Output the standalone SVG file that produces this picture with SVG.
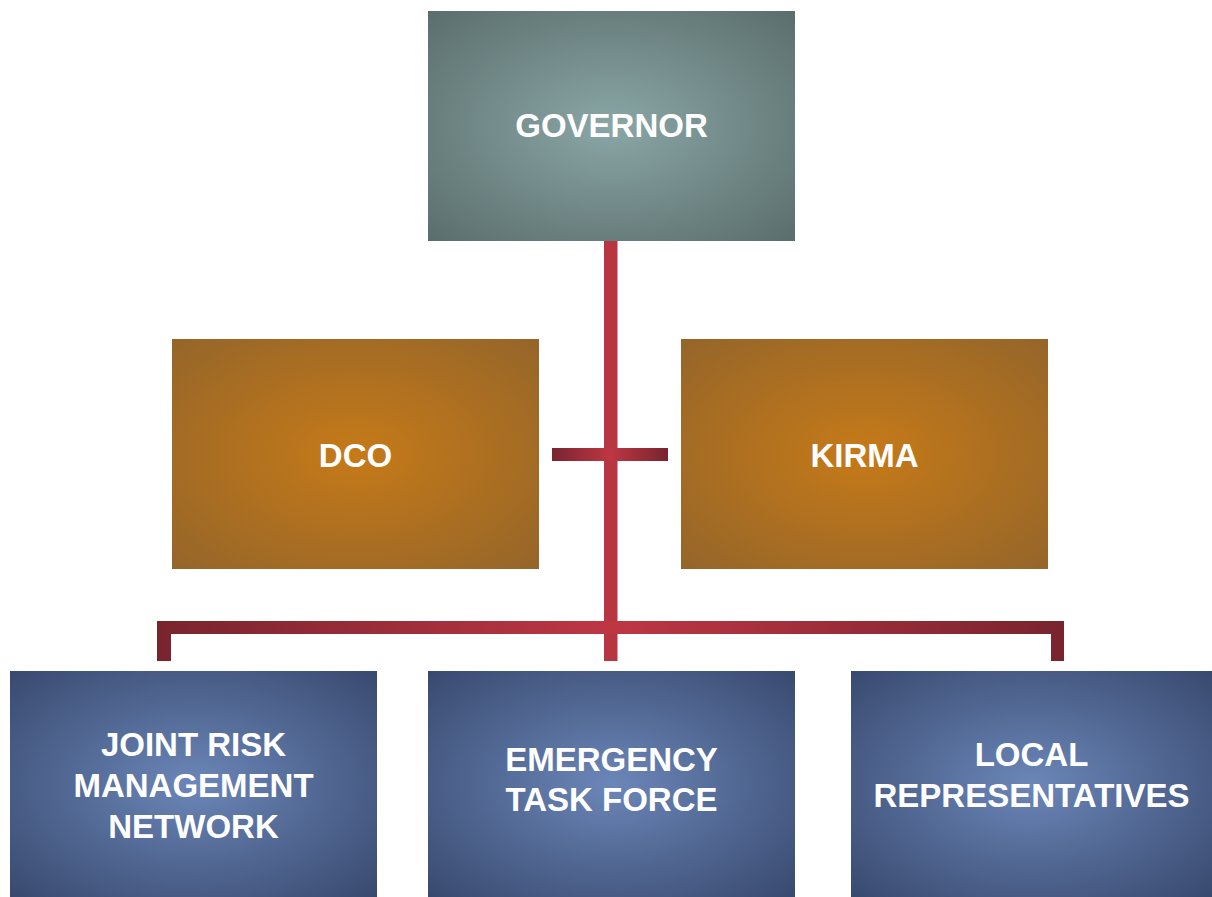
<svg xmlns="http://www.w3.org/2000/svg" width="1212" height="897" viewBox="0 0 1212 897">
  <defs>
    <radialGradient id="gGray" cx="0.5" cy="0.5" r="0.71">
      <stop offset="0" stop-color="#8aa6a6"/>
      <stop offset="1" stop-color="#5a6d6c"/>
    </radialGradient>
    <radialGradient id="gOrange" cx="0.5" cy="0.5" r="0.71">
      <stop offset="0" stop-color="#c67a18"/>
      <stop offset="1" stop-color="#94652a"/>
    </radialGradient>
    <radialGradient id="gBlue" cx="0.5" cy="0.5" r="0.71">
      <stop offset="0" stop-color="#6b86b8"/>
      <stop offset="1" stop-color="#38496e"/>
    </radialGradient>
    <linearGradient id="gRedH" x1="0" y1="0" x2="1" y2="0">
      <stop offset="0" stop-color="#78242f"/>
      <stop offset="0.5" stop-color="#bd3743"/>
      <stop offset="1" stop-color="#78242f"/>
    </linearGradient>
    <linearGradient id="gRedBottom" gradientUnits="userSpaceOnUse" x1="157" y1="0" x2="1064" y2="0">
      <stop offset="0" stop-color="#78242f"/>
      <stop offset="0.5" stop-color="#bd3743"/>
      <stop offset="1" stop-color="#78242f"/>
    </linearGradient>
  </defs>
  <style>
    .lbl { font-family: "Liberation Sans", Arial, sans-serif; font-weight: bold; font-size: 33px; fill: #ffffff; text-anchor: middle; }
  </style>
  <rect width="1212" height="897" fill="#ffffff"/>

  <g id="connectors">
    <rect x="604" y="241" width="13.5" height="420" fill="#b83642"/>
    <rect x="552" y="448" width="116" height="13" fill="url(#gRedH)"/>
    <path d="M157,661 V621 H1064 V661 H1051 V634 H171 V661 Z" fill="url(#gRedBottom)"/>
    <rect x="604" y="621" width="13.5" height="13" fill="#bd3743"/>
  </g>

  <g id="governor">
    <rect x="428" y="11" width="367" height="230" fill="url(#gGray)"/>
    <text class="lbl" x="611.5" y="137">GOVERNOR</text>
  </g>

  <g id="dco">
    <rect x="172" y="339" width="367" height="230" fill="url(#gOrange)"/>
    <text class="lbl" x="355.5" y="467">DCO</text>
  </g>

  <g id="kirma">
    <rect x="681" y="339" width="367" height="230" fill="url(#gOrange)"/>
    <text class="lbl" x="864.5" y="467">KIRMA</text>
  </g>

  <g id="jrmn">
    <rect x="10" y="671" width="367" height="226" fill="url(#gBlue)"/>
    <text class="lbl" x="193.5" y="756">JOINT RISK</text>
    <text class="lbl" x="193.5" y="797">MANAGEMENT</text>
    <text class="lbl" x="193.5" y="838">NETWORK</text>
  </g>

  <g id="etf">
    <rect x="428" y="671" width="367" height="226" fill="url(#gBlue)"/>
    <text class="lbl" x="611.5" y="771">EMERGENCY</text>
    <text class="lbl" x="611.5" y="811">TASK FORCE</text>
  </g>

  <g id="local">
    <rect x="851" y="671" width="361" height="226" fill="url(#gBlue)"/>
    <text class="lbl" x="1031.5" y="766">LOCAL</text>
    <text class="lbl" x="1031.5" y="807">REPRESENTATIVES</text>
  </g>
</svg>
